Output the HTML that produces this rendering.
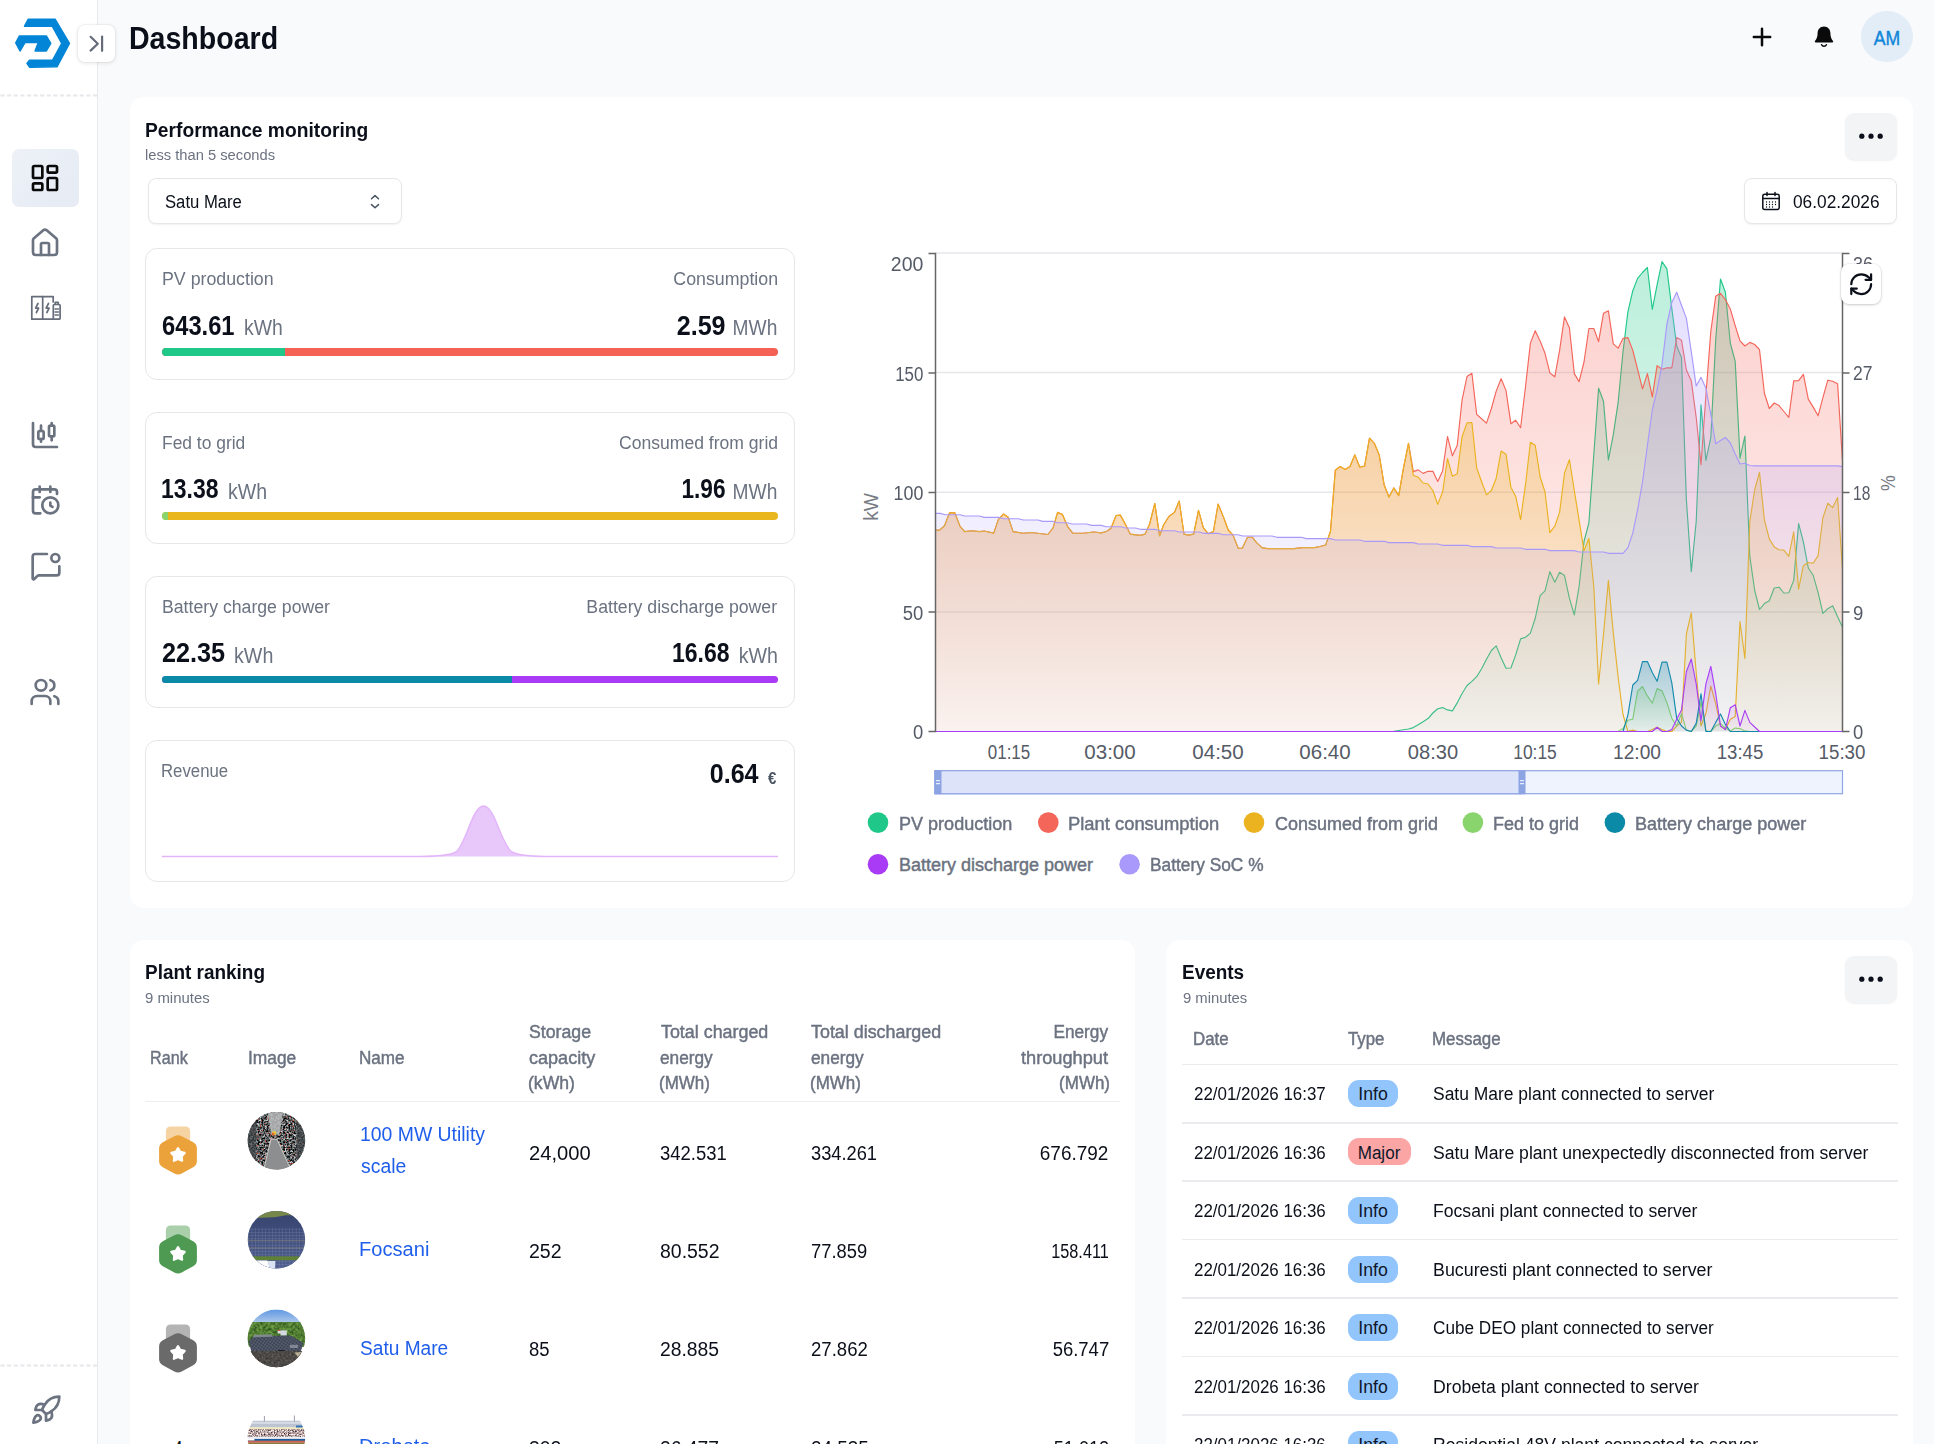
<!DOCTYPE html>
<html><head><meta charset="utf-8"><title>Dashboard</title><style>
*{box-sizing:border-box}
html,body{margin:0;padding:0}
body{width:1934px;height:1444px;overflow:hidden;background:#f9fafb;font-family:"Liberation Sans",sans-serif;position:relative}
.t{position:absolute;white-space:nowrap;line-height:1;display:block}
.abs{position:absolute}
.card{position:absolute;background:#fff;border-radius:14px}
.kpi{position:absolute;background:#fff;border:1.5px solid #e5e7eb;border-radius:12px}
.bar{position:absolute;height:8px}
svg{position:absolute;overflow:visible}
</style></head><body>
<div class="abs" style="left:0;top:0;width:98px;height:1444px;background:#fff;border-right:1.5px solid #e8eaee"></div>
<svg style="left:0;top:0" width="98" height="1444"><path d="M0.5 95.4H97M0.5 1365.5H97" stroke="#e5e7eb" stroke-width="2" stroke-dasharray="4.2 2.4" fill="none"/></svg>
<svg style="left:0;top:0" width="98" height="95" viewBox="0 0 98 95"><g fill="#0285d6" stroke="#0285d6" stroke-width="1.6" stroke-linejoin="round"><path d="M24.6 26.2 L28.2 19.4 L55 19.2 L69.4 43.3 L56.9 66.8 L29.6 67.1 L27 63.4 L29.6 60.2 L52.7 60.2 L61.8 43.3 L52.3 26.2 Z"/><path d="M19.5 36 L15.8 42.9 L20.1 50.8 L24.9 42.5 L38.4 42.5 L35.2 50.9 L46.3 50.9 L50.7 43.3 L46.3 36 Z"/></g></svg>
<div class="abs" style="left:78px;top:24.6px;width:37px;height:37.4px;background:#fff;border-radius:7px;box-shadow:0 1px 4px rgba(16,24,40,.12),0 0 0 1px rgba(16,24,40,.03)"></div>
<svg style="left:78px;top:24.6px" width="37" height="37.4" viewBox="78 24.6 37 37.4" fill="none" stroke="#666c7a" stroke-width="2.2" stroke-linecap="round" stroke-linejoin="round"><path d="M90.6 36.4 L97.8 43.3 L90.6 50.2"/><path d="M102.1 36.2V50.4"/></svg>
<div class="abs" style="left:12px;top:148.5px;width:67px;height:58px;border-radius:7px;background:linear-gradient(135deg,#edf1f7,#e6ebf4)"></div>
<svg style="left:29.20px;top:161.70px" width="32" height="32" viewBox="0 0 24 24" fill="none" stroke="#0a0a0a" stroke-width="2" stroke-linecap="round" stroke-linejoin="round"><rect width="7" height="9" x="3" y="3" rx="1"/><rect width="7" height="5" x="14" y="3" rx="1"/><rect width="7" height="9" x="14" y="12" rx="1"/><rect width="7" height="5" x="3" y="16" rx="1"/></svg>
<svg style="left:29.20px;top:227.20px" width="32" height="32" viewBox="0 0 24 24" fill="none" stroke="#6b7280" stroke-width="2" stroke-linecap="round" stroke-linejoin="round"><path d="M15 21v-8a1 1 0 0 0-1-1h-4a1 1 0 0 0-1 1v8"/><path d="M3 10a2 2 0 0 1 .709-1.528l7-5.999a2 2 0 0 1 2.582 0l7 5.999A2 2 0 0 1 21 10v9a2 2 0 0 1-2 2H5a2 2 0 0 1-2-2z"/></svg>
<svg style="left:29px;top:292px" width="34" height="32" viewBox="29 292 34 32" fill="none" stroke="#666c7a" stroke-width="1.7" stroke-linejoin="round" stroke-linecap="round"><path d="M53.2 302V296.6H31.8V319.2H53"/><path d="M42.7 296.6V319.2"/><path d="M38 303.5l-2.4 4.6h3l-2.2 4.4"/><path d="M48.5 303.5l-2.4 4.6h3l-2.2 4.4"/><rect x="53.3" y="304.5" width="6.8" height="14.7" rx="1"/><path d="M55.2 304.3v-2h3v2"/><path d="M55 309h3.4M55 312h3.4M55 315h3.4" stroke-width="1.4"/></svg>
<svg style="left:29.20px;top:419.20px" width="32" height="32" viewBox="0 0 24 24" fill="none" stroke="#6b7280" stroke-width="2" stroke-linecap="round" stroke-linejoin="round"><path d="M9 5v4"/><rect width="4" height="6" x="7" y="9" rx="1"/><path d="M9 15v2"/><path d="M17 3v2"/><rect width="4" height="8" x="15" y="5" rx="1"/><path d="M17 13v3"/><path d="M3 3v16a2 2 0 0 0 2 2h16"/></svg>
<svg style="left:29.20px;top:484.30px" width="32" height="32" viewBox="0 0 24 24" fill="none" stroke="#6b7280" stroke-width="2" stroke-linecap="round" stroke-linejoin="round"><path d="M16 14v2.2l1.6 1"/><path d="M16 2v4"/><path d="M21 7.5V6a2 2 0 0 0-2-2H5a2 2 0 0 0-2 2v14a2 2 0 0 0 2 2h3.5"/><path d="M3 10h5"/><path d="M8 2v4"/><circle cx="16" cy="16" r="6"/></svg>
<svg style="left:29.80px;top:549.70px" width="32" height="32" viewBox="0 0 24 24" fill="none" stroke="#6b7280" stroke-width="2" stroke-linecap="round" stroke-linejoin="round"><path d="M12.7 3H4a2 2 0 0 0-2 2v16.286a.71.71 0 0 0 1.212.502l2.202-2.202A2 2 0 0 1 6.828 19H20a2 2 0 0 0 2-2v-4.7"/><circle cx="19" cy="6" r="3"/></svg>
<svg style="left:29.40px;top:676.40px" width="32" height="32" viewBox="0 0 24 24" fill="none" stroke="#6b7280" stroke-width="2" stroke-linecap="round" stroke-linejoin="round"><path d="M16 21v-2a4 4 0 0 0-4-4H6a4 4 0 0 0-4 4v2"/><circle cx="9" cy="7" r="4"/><path d="M22 21v-2a4 4 0 0 0-3-3.87"/><path d="M16 3.13a4 4 0 0 1 0 7.75"/></svg>
<svg style="left:29.90px;top:1393.90px" width="32" height="32" viewBox="0 0 24 24" fill="none" stroke="#6b7280" stroke-width="2" stroke-linecap="round" stroke-linejoin="round"><path d="M4.5 16.5c-1.5 1.26-2 5-2 5s3.74-.5 5-2c.71-.84.7-2.13-.09-2.91a2.18 2.18 0 0 0-2.91-.09z"/><path d="m12 15-3-3a22 22 0 0 1 2-3.95A12.88 12.88 0 0 1 22 2c0 2.72-.78 7.5-6 11a22.35 22.35 0 0 1-4 2z"/><path d="M9 12H4s.55-3.03 2-4c1.62-1.08 5 0 5 0"/><path d="M12 15v5s3.03-.55 4-2c1.08-1.62 0-5 0-5"/></svg><svg style="left:1751px;top:26px" width="22" height="22" fill="none" stroke="#0a0a0a" stroke-width="2.5" stroke-linecap="round"><path d="M2.8 11H19.2M11 2.8V19.2"/></svg>
<svg style="left:1812.3px;top:25px" width="24" height="24" viewBox="0 0 24 24"><path fill="#0a0a0a" d="M12 1.6c-3.7 0-6.4 2.9-6.4 6.5 0 3.2-.7 5.6-2.6 7.9-.5.6-.1 1.5.7 1.5h16.6c.8 0 1.2-.9.7-1.5-1.9-2.300-2.600-4.700-2.600-7.900 0-3.600-2.700-6.500-6.400-6.500z"/><path d="M9.600 19.700c.4 1 1.300 1.600 2.400 1.600s2-.6 2.400-1.600" fill="none" stroke="#0a0a0a" stroke-width="1.5" stroke-linecap="round"/></svg>
<div class="abs" style="left:1861px;top:10.800px;width:51.600px;height:51.600px;border-radius:50%;background:#e3edf8"></div>
<div class="card" style="left:129.5px;top:97.3px;width:1783px;height:811px"></div>
<div class="abs" style="left:1845px;top:113.3px;width:52px;height:47px;border-radius:9px;background:#f3f4f6;box-shadow:0 1px 2px rgba(16,24,40,.06)"></div><svg style="left:1845px;top:113.3px" width="52" height="47"><circle cx="16.8" cy="23.2" r="2.6" fill="#0b0f19"/><circle cx="26" cy="23.2" r="2.6" fill="#0b0f19"/><circle cx="35.2" cy="23.2" r="2.6" fill="#0b0f19"/></svg>
<div class="abs" style="left:147.6px;top:178.4px;width:254.2px;height:45.6px;border:1.5px solid #e5e7eb;border-radius:8px;background:#fff;box-shadow:0 1px 2px rgba(16,24,40,.06)"></div>
<svg style="left:366px;top:192px" width="18" height="20" fill="none" stroke="#4b5563" stroke-width="1.5" stroke-linecap="round" stroke-linejoin="round"><path d="M5.500 6.800 L9 3.600 L12.500 6.800M5.500 12.600 L9 15.800 L12.500 12.600"/></svg>
<div class="abs" style="left:1743.800px;top:178.400px;width:153px;height:45.600px;border:1.5px solid #e5e7eb;border-radius:8px;background:#fff;box-shadow:0 1px 2px rgba(16,24,40,.06)"></div>
<svg style="left:1761px;top:191px" width="20" height="20" viewBox="0 0 20 20" fill="none" stroke="#0b0f19" stroke-width="1.500" stroke-linecap="round"><rect x="1.800" y="3.200" width="16.400" height="15.200" rx="2"/><path d="M1.800 7.600H18.200M6 1.400V4.400M14 1.400V4.400"/><path d="M5.500 11h.01M8.500 11h.01M11.500 11h.01M14.500 11h.01M5.500 13.500h.01M8.500 13.500h.01M11.500 13.500h.01M14.500 13.500h.01M5.500 16h.01M8.500 16h.01M11.500 16h.01" stroke-width="1.300"/></svg><div class="kpi" style="left:145px;top:248.3px;width:649.5px;height:132px"></div>
<div class="kpi" style="left:145px;top:412.2px;width:649.5px;height:131.6px"></div>
<div class="kpi" style="left:145px;top:576px;width:649.5px;height:131.6px"></div>
<div class="kpi" style="left:145px;top:739.6px;width:649.5px;height:142.6px"></div>
<div class="abs" style="left:162px;top:348.2px;width:616px;height:7.6px;border-radius:4px;overflow:hidden;background:#f66155"><div class="abs" style="left:0px;top:0;width:123px;height:8px;background:#1fc888"></div></div>
<div class="abs" style="left:162px;top:512.2px;width:616px;height:7.6px;border-radius:4px;overflow:hidden;background:#eab61e"><div class="abs" style="left:0px;top:0;width:6px;height:8px;background:#8ad46d"></div></div>
<div class="abs" style="left:162px;top:675.9px;width:616px;height:7.6px;border-radius:4px;overflow:hidden;background:#a93af5"><div class="abs" style="left:0px;top:0;width:350px;height:8px;background:#0b8aa8"></div></div>
<svg style="left:0;top:0" width="1934" height="1444"><path d="M161.800 856.400 H420 C440 856.400 450 855.500 456 852 C466 845 472 806 483.600 806 C495 806 501 845 512 852 C520 855.800 530 856.400 545 856.400 H778 " fill="#e8c7fb" stroke="#e3b6fa" stroke-width="1.500"/></svg><svg width="1934" height="1444" viewBox="0 0 1934 1444" style="left:0;top:0">
<defs>
<linearGradient id="g_pv" gradientUnits="userSpaceOnUse" x1="0" y1="261.6" x2="0" y2="731.5"><stop offset="0" stop-color="#1fc888" stop-opacity="0.30"/><stop offset="1" stop-color="#1fc888" stop-opacity="0.04"/></linearGradient>
<linearGradient id="g_red" gradientUnits="userSpaceOnUse" x1="0" y1="293.3" x2="0" y2="731.5"><stop offset="0" stop-color="#f4655a" stop-opacity="0.30"/><stop offset="1" stop-color="#f4655a" stop-opacity="0.04"/></linearGradient>
<linearGradient id="g_or" gradientUnits="userSpaceOnUse" x1="0" y1="422.5" x2="0" y2="731.5"><stop offset="0" stop-color="#eab31f" stop-opacity="0.30"/><stop offset="1" stop-color="#eab31f" stop-opacity="0.04"/></linearGradient>
<linearGradient id="g_lg" gradientUnits="userSpaceOnUse" x1="0" y1="686.5" x2="0" y2="731.5"><stop offset="0" stop-color="#8ad46d" stop-opacity="0.30"/><stop offset="1" stop-color="#8ad46d" stop-opacity="0.04"/></linearGradient>
<linearGradient id="g_tl" gradientUnits="userSpaceOnUse" x1="0" y1="661.6" x2="0" y2="731.5"><stop offset="0" stop-color="#0b8aa8" stop-opacity="0.30"/><stop offset="1" stop-color="#0b8aa8" stop-opacity="0.04"/></linearGradient>
<linearGradient id="g_pu" gradientUnits="userSpaceOnUse" x1="0" y1="659.0" x2="0" y2="731.5"><stop offset="0" stop-color="#a93af5" stop-opacity="0.30"/><stop offset="1" stop-color="#a93af5" stop-opacity="0.04"/></linearGradient>
<linearGradient id="g_soc" gradientUnits="userSpaceOnUse" x1="0" y1="292.2" x2="0" y2="731.5"><stop offset="0" stop-color="#a999fa" stop-opacity="0.30"/><stop offset="1" stop-color="#a999fa" stop-opacity="0.04"/></linearGradient>
<clipPath id="plot"><rect x="935.5" y="251.0" width="907.5" height="481.7"/></clipPath>
</defs>
<line x1="935.5" y1="253.0" x2="1842.5" y2="253.0" stroke="#e5e7eb" stroke-width="1.5"/>
<line x1="935.5" y1="372.6" x2="1842.5" y2="372.6" stroke="#e5e7eb" stroke-width="1.5"/>
<line x1="935.5" y1="492.2" x2="1842.5" y2="492.2" stroke="#e5e7eb" stroke-width="1.5"/>
<line x1="935.5" y1="611.9" x2="1842.5" y2="611.9" stroke="#e5e7eb" stroke-width="1.5"/>
<g clip-path="url(#plot)">
<polygon points="935.5,731.5 1389.0,731.5 1393.8,731.3 1398.7,730.5 1403.6,729.8 1408.5,729.0 1413.3,727.6 1418.2,724.7 1423.1,721.8 1428.0,718.6 1432.9,713.0 1437.7,708.7 1442.6,707.6 1447.5,709.9 1452.4,710.9 1457.2,702.9 1462.1,693.5 1467.0,685.5 1471.9,681.4 1476.7,676.7 1481.6,668.7 1486.5,659.3 1491.4,650.5 1496.2,645.9 1501.1,657.8 1506.0,668.3 1510.9,668.0 1515.7,654.9 1520.6,638.9 1525.5,637.2 1530.4,633.1 1535.2,618.5 1540.1,595.6 1545.0,590.9 1549.9,571.7 1554.8,582.2 1559.6,572.3 1564.5,575.6 1569.4,598.2 1574.3,614.9 1579.1,586.5 1584.0,541.5 1588.9,522.9 1593.8,454.5 1598.6,388.2 1603.5,401.3 1608.4,460.0 1613.3,434.7 1618.1,402.7 1623.0,351.8 1627.9,311.8 1632.8,290.7 1637.6,278.4 1642.5,272.5 1647.4,267.5 1652.3,309.3 1657.1,284.9 1662.0,261.6 1666.9,268.9 1671.8,308.2 1676.7,346.0 1681.5,357.6 1686.4,500.0 1691.3,571.6 1696.2,521.5 1701.0,404.9 1705.9,460.4 1710.8,437.6 1715.7,340.0 1720.5,279.0 1725.4,292.2 1730.3,343.0 1735.2,361.3 1740.0,458.2 1744.9,436.0 1749.8,556.4 1754.7,590.5 1759.5,609.5 1764.4,603.6 1769.3,600.7 1774.2,588.0 1779.0,587.2 1783.9,593.0 1788.8,592.7 1793.7,580.4 1798.6,523.6 1803.4,541.8 1808.3,568.0 1813.2,575.3 1818.1,592.7 1822.9,613.4 1827.8,608.7 1832.7,605.8 1837.6,616.7 1842.4,626.9 1842.4,731.5 935.5,731.5" fill="url(#g_pv)"/>
<polyline points="935.5,731.5 1389.0,731.5 1393.8,731.3 1398.7,730.5 1403.6,729.8 1408.5,729.0 1413.3,727.6 1418.2,724.7 1423.1,721.8 1428.0,718.6 1432.9,713.0 1437.7,708.7 1442.6,707.6 1447.5,709.9 1452.4,710.9 1457.2,702.9 1462.1,693.5 1467.0,685.5 1471.9,681.4 1476.7,676.7 1481.6,668.7 1486.5,659.3 1491.4,650.5 1496.2,645.9 1501.1,657.8 1506.0,668.3 1510.9,668.0 1515.7,654.9 1520.6,638.9 1525.5,637.2 1530.4,633.1 1535.2,618.5 1540.1,595.6 1545.0,590.9 1549.9,571.7 1554.8,582.2 1559.6,572.3 1564.5,575.6 1569.4,598.2 1574.3,614.9 1579.1,586.5 1584.0,541.5 1588.9,522.9 1593.8,454.5 1598.6,388.2 1603.5,401.3 1608.4,460.0 1613.3,434.7 1618.1,402.7 1623.0,351.8 1627.9,311.8 1632.8,290.7 1637.6,278.4 1642.5,272.5 1647.4,267.5 1652.3,309.3 1657.1,284.9 1662.0,261.6 1666.9,268.9 1671.8,308.2 1676.7,346.0 1681.5,357.6 1686.4,500.0 1691.3,571.6 1696.2,521.5 1701.0,404.9 1705.9,460.4 1710.8,437.6 1715.7,340.0 1720.5,279.0 1725.4,292.2 1730.3,343.0 1735.2,361.3 1740.0,458.2 1744.9,436.0 1749.8,556.4 1754.7,590.5 1759.5,609.5 1764.4,603.6 1769.3,600.7 1774.2,588.0 1779.0,587.2 1783.9,593.0 1788.8,592.7 1793.7,580.4 1798.6,523.6 1803.4,541.8 1808.3,568.0 1813.2,575.3 1818.1,592.7 1822.9,613.4 1827.8,608.7 1832.7,605.8 1837.6,616.7 1842.4,626.9" fill="none" stroke="#1fc888" stroke-width="1.15" stroke-linejoin="round"/>
<polygon points="935.5,530.0 939.3,530.4 944.5,525.8 949.6,512.8 954.8,512.8 960.0,526.3 964.7,531.6 971.4,530.8 979.6,531.6 984.2,531.0 993.7,533.1 998.3,519.6 1003.4,514.1 1008.2,517.2 1013.1,531.6 1023.1,533.3 1031.3,532.5 1047.9,534.5 1053.1,527.9 1057.6,512.4 1062.4,514.5 1067.5,526.3 1072.7,533.1 1083.1,533.3 1093.4,532.0 1101.7,532.9 1106.8,531.2 1111.0,528.3 1116.1,515.5 1120.3,515.1 1125.4,524.2 1130.2,534.1 1139.9,535.4 1145.1,534.1 1149.6,524.2 1154.8,503.5 1159.6,535.8 1163.7,524.8 1168.9,516.5 1174.5,512.4 1179.2,501.0 1184.0,534.1 1188.5,535.1 1193.7,534.1 1198.5,510.3 1203.4,527.9 1208.2,533.7 1213.4,531.6 1218.1,504.1 1223.7,517.6 1228.2,530.0 1233.0,535.1 1238.2,548.2 1242.3,548.2 1247.5,537.2 1252.2,537.2 1256.8,542.8 1262.0,547.6 1267.1,548.6 1294.0,548.6 1302.3,547.6 1314.7,547.6 1320.7,546.3 1325.6,545.1 1330.5,531.3 1335.3,470.2 1340.2,466.5 1345.1,469.5 1350.0,466.5 1354.8,454.9 1359.7,467.0 1364.6,466.1 1369.5,438.2 1374.3,443.3 1379.2,454.9 1384.1,484.7 1389.0,497.1 1393.8,487.9 1398.7,495.6 1403.6,467.3 1408.5,443.3 1413.3,471.6 1418.2,469.9 1423.1,473.4 1428.0,471.3 1432.9,471.3 1437.7,481.5 1442.6,470.9 1447.5,436.5 1452.4,455.8 1457.2,445.6 1462.1,399.8 1467.0,376.5 1471.9,373.3 1476.7,414.4 1481.6,418.7 1486.5,423.1 1491.4,408.5 1496.2,391.1 1501.1,378.7 1506.0,390.4 1510.9,423.8 1515.7,420.2 1520.6,427.7 1525.5,386.7 1530.4,343.1 1535.2,330.7 1540.1,340.9 1545.0,353.3 1549.9,372.9 1554.8,376.8 1559.6,350.4 1564.5,316.9 1569.4,327.8 1574.3,373.6 1579.1,381.6 1584.0,362.0 1588.9,328.5 1593.8,328.5 1598.6,341.6 1603.5,313.3 1608.4,310.8 1613.3,343.8 1618.1,348.2 1623.0,338.4 1627.9,337.6 1632.8,350.4 1637.6,369.3 1642.5,388.9 1647.4,373.6 1652.3,396.9 1657.1,365.6 1662.0,369.3 1666.9,367.8 1671.8,367.8 1676.7,337.6 1681.5,340.2 1686.4,370.0 1691.3,380.9 1696.2,417.3 1701.0,464.7 1705.9,395.5 1710.8,331.5 1715.7,296.3 1720.5,293.3 1725.4,299.5 1730.3,308.9 1735.2,325.6 1740.0,340.9 1744.9,346.0 1749.8,342.4 1754.7,344.5 1759.5,349.6 1764.4,393.3 1769.3,408.5 1774.2,403.0 1779.0,405.6 1783.9,411.5 1788.8,417.3 1793.7,380.9 1798.6,380.6 1803.4,374.4 1808.3,399.1 1813.2,407.1 1818.1,415.8 1822.9,397.6 1827.8,380.2 1832.7,381.2 1837.6,383.8 1842.4,459.5 1842.4,731.5 935.5,731.5" fill="url(#g_red)"/>
<polyline points="935.5,530.0 939.3,530.4 944.5,525.8 949.6,512.8 954.8,512.8 960.0,526.3 964.7,531.6 971.4,530.8 979.6,531.6 984.2,531.0 993.7,533.1 998.3,519.6 1003.4,514.1 1008.2,517.2 1013.1,531.6 1023.1,533.3 1031.3,532.5 1047.9,534.5 1053.1,527.9 1057.6,512.4 1062.4,514.5 1067.5,526.3 1072.7,533.1 1083.1,533.3 1093.4,532.0 1101.7,532.9 1106.8,531.2 1111.0,528.3 1116.1,515.5 1120.3,515.1 1125.4,524.2 1130.2,534.1 1139.9,535.4 1145.1,534.1 1149.6,524.2 1154.8,503.5 1159.6,535.8 1163.7,524.8 1168.9,516.5 1174.5,512.4 1179.2,501.0 1184.0,534.1 1188.5,535.1 1193.7,534.1 1198.5,510.3 1203.4,527.9 1208.2,533.7 1213.4,531.6 1218.1,504.1 1223.7,517.6 1228.2,530.0 1233.0,535.1 1238.2,548.2 1242.3,548.2 1247.5,537.2 1252.2,537.2 1256.8,542.8 1262.0,547.6 1267.1,548.6 1294.0,548.6 1302.3,547.6 1314.7,547.6 1320.7,546.3 1325.6,545.1 1330.5,531.3 1335.3,470.2 1340.2,466.5 1345.1,469.5 1350.0,466.5 1354.8,454.9 1359.7,467.0 1364.6,466.1 1369.5,438.2 1374.3,443.3 1379.2,454.9 1384.1,484.7 1389.0,497.1 1393.8,487.9 1398.7,495.6 1403.6,467.3 1408.5,443.3 1413.3,471.6 1418.2,469.9 1423.1,473.4 1428.0,471.3 1432.9,471.3 1437.7,481.5 1442.6,470.9 1447.5,436.5 1452.4,455.8 1457.2,445.6 1462.1,399.8 1467.0,376.5 1471.9,373.3 1476.7,414.4 1481.6,418.7 1486.5,423.1 1491.4,408.5 1496.2,391.1 1501.1,378.7 1506.0,390.4 1510.9,423.8 1515.7,420.2 1520.6,427.7 1525.5,386.7 1530.4,343.1 1535.2,330.7 1540.1,340.9 1545.0,353.3 1549.9,372.9 1554.8,376.8 1559.6,350.4 1564.5,316.9 1569.4,327.8 1574.3,373.6 1579.1,381.6 1584.0,362.0 1588.9,328.5 1593.8,328.5 1598.6,341.6 1603.5,313.3 1608.4,310.8 1613.3,343.8 1618.1,348.2 1623.0,338.4 1627.9,337.6 1632.8,350.4 1637.6,369.3 1642.5,388.9 1647.4,373.6 1652.3,396.9 1657.1,365.6 1662.0,369.3 1666.9,367.8 1671.8,367.8 1676.7,337.6 1681.5,340.2 1686.4,370.0 1691.3,380.9 1696.2,417.3 1701.0,464.7 1705.9,395.5 1710.8,331.5 1715.7,296.3 1720.5,293.3 1725.4,299.5 1730.3,308.9 1735.2,325.6 1740.0,340.9 1744.9,346.0 1749.8,342.4 1754.7,344.5 1759.5,349.6 1764.4,393.3 1769.3,408.5 1774.2,403.0 1779.0,405.6 1783.9,411.5 1788.8,417.3 1793.7,380.9 1798.6,380.6 1803.4,374.4 1808.3,399.1 1813.2,407.1 1818.1,415.8 1822.9,397.6 1827.8,380.2 1832.7,381.2 1837.6,383.8 1842.4,459.5" fill="none" stroke="#f4655a" stroke-width="1.15" stroke-linejoin="round"/>
<polygon points="935.5,530.0 939.3,530.4 944.5,525.8 949.6,512.8 954.8,512.8 960.0,526.3 964.7,531.6 971.4,530.8 979.6,531.6 984.2,531.0 993.7,533.1 998.3,519.6 1003.4,514.1 1008.2,517.2 1013.1,531.6 1023.1,533.3 1031.3,532.5 1047.9,534.5 1053.1,527.9 1057.6,512.4 1062.4,514.5 1067.5,526.3 1072.7,533.1 1083.1,533.3 1093.4,532.0 1101.7,532.9 1106.8,531.2 1111.0,528.3 1116.1,515.5 1120.3,515.1 1125.4,524.2 1130.2,534.1 1139.9,535.4 1145.1,534.1 1149.6,524.2 1154.8,503.5 1159.6,535.8 1163.7,524.8 1168.9,516.5 1174.5,512.4 1179.2,501.0 1184.0,534.1 1188.5,535.1 1193.7,534.1 1198.5,510.3 1203.4,527.9 1208.2,533.7 1213.4,531.6 1218.1,504.1 1223.7,517.6 1228.2,530.0 1233.0,535.1 1238.2,548.2 1242.3,548.2 1247.5,537.2 1252.2,537.2 1256.8,542.8 1262.0,547.6 1267.1,548.6 1294.0,548.6 1302.3,547.6 1314.7,547.6 1320.7,546.3 1325.6,545.1 1330.5,531.3 1335.3,470.2 1340.2,466.5 1345.1,469.5 1350.0,466.5 1354.8,454.9 1359.7,467.0 1364.6,466.1 1369.5,438.2 1374.3,443.3 1379.2,454.9 1384.1,484.7 1389.0,497.1 1393.8,487.9 1398.7,495.6 1403.6,467.3 1408.5,443.3 1413.3,475.3 1418.2,477.2 1423.1,483.0 1428.0,484.0 1432.9,490.5 1437.7,504.4 1442.6,492.0 1447.5,458.5 1452.4,476.3 1457.2,473.8 1462.1,436.7 1467.0,422.9 1471.9,422.5 1476.7,468.0 1481.6,481.8 1486.5,494.9 1491.4,490.5 1496.2,478.2 1501.1,451.0 1506.0,454.2 1510.9,487.3 1515.7,496.4 1520.6,519.6 1525.5,484.7 1530.4,442.3 1535.2,445.2 1540.1,476.7 1545.0,492.0 1549.9,532.7 1554.8,526.2 1559.6,512.4 1564.5,473.1 1569.4,459.7 1574.3,490.5 1579.1,520.4 1584.0,550.9 1588.9,538.5 1593.8,586.7 1598.6,684.0 1603.5,634.5 1608.4,580.4 1613.3,633.1 1618.1,676.7 1623.0,714.5 1627.9,731.3 1632.8,730.1 1637.6,731.5 1642.5,731.5 1647.4,731.5 1652.3,729.6 1657.1,727.3 1662.0,729.6 1666.9,731.5 1671.8,731.5 1676.7,726.0 1681.5,722.4 1686.4,634.0 1691.3,612.7 1696.2,672.5 1701.0,726.0 1705.9,713.5 1710.8,686.0 1715.7,703.7 1720.5,726.0 1725.4,729.6 1730.3,719.2 1735.2,716.6 1740.0,621.6 1744.9,658.5 1749.8,521.5 1754.7,489.5 1759.5,472.3 1764.4,520.0 1769.3,538.9 1774.2,546.9 1779.0,549.8 1783.9,550.1 1788.8,556.4 1793.7,531.9 1798.6,589.1 1803.4,565.8 1808.3,562.5 1813.2,563.3 1818.1,555.6 1822.9,517.8 1827.8,503.3 1832.7,507.6 1837.6,497.5 1842.4,568.0 1842.4,731.5 935.5,731.5" fill="url(#g_or)"/>
<polyline points="935.5,530.0 939.3,530.4 944.5,525.8 949.6,512.8 954.8,512.8 960.0,526.3 964.7,531.6 971.4,530.8 979.6,531.6 984.2,531.0 993.7,533.1 998.3,519.6 1003.4,514.1 1008.2,517.2 1013.1,531.6 1023.1,533.3 1031.3,532.5 1047.9,534.5 1053.1,527.9 1057.6,512.4 1062.4,514.5 1067.5,526.3 1072.7,533.1 1083.1,533.3 1093.4,532.0 1101.7,532.9 1106.8,531.2 1111.0,528.3 1116.1,515.5 1120.3,515.1 1125.4,524.2 1130.2,534.1 1139.9,535.4 1145.1,534.1 1149.6,524.2 1154.8,503.5 1159.6,535.8 1163.7,524.8 1168.9,516.5 1174.5,512.4 1179.2,501.0 1184.0,534.1 1188.5,535.1 1193.7,534.1 1198.5,510.3 1203.4,527.9 1208.2,533.7 1213.4,531.6 1218.1,504.1 1223.7,517.6 1228.2,530.0 1233.0,535.1 1238.2,548.2 1242.3,548.2 1247.5,537.2 1252.2,537.2 1256.8,542.8 1262.0,547.6 1267.1,548.6 1294.0,548.6 1302.3,547.6 1314.7,547.6 1320.7,546.3 1325.6,545.1 1330.5,531.3 1335.3,470.2 1340.2,466.5 1345.1,469.5 1350.0,466.5 1354.8,454.9 1359.7,467.0 1364.6,466.1 1369.5,438.2 1374.3,443.3 1379.2,454.9 1384.1,484.7 1389.0,497.1 1393.8,487.9 1398.7,495.6 1403.6,467.3 1408.5,443.3 1413.3,475.3 1418.2,477.2 1423.1,483.0 1428.0,484.0 1432.9,490.5 1437.7,504.4 1442.6,492.0 1447.5,458.5 1452.4,476.3 1457.2,473.8 1462.1,436.7 1467.0,422.9 1471.9,422.5 1476.7,468.0 1481.6,481.8 1486.5,494.9 1491.4,490.5 1496.2,478.2 1501.1,451.0 1506.0,454.2 1510.9,487.3 1515.7,496.4 1520.6,519.6 1525.5,484.7 1530.4,442.3 1535.2,445.2 1540.1,476.7 1545.0,492.0 1549.9,532.7 1554.8,526.2 1559.6,512.4 1564.5,473.1 1569.4,459.7 1574.3,490.5 1579.1,520.4 1584.0,550.9 1588.9,538.5 1593.8,586.7 1598.6,684.0 1603.5,634.5 1608.4,580.4 1613.3,633.1 1618.1,676.7 1623.0,714.5 1627.9,731.3 1632.8,730.1 1637.6,731.5 1642.5,731.5 1647.4,731.5 1652.3,729.6 1657.1,727.3 1662.0,729.6 1666.9,731.5 1671.8,731.5 1676.7,726.0 1681.5,722.4 1686.4,634.0 1691.3,612.7 1696.2,672.5 1701.0,726.0 1705.9,713.5 1710.8,686.0 1715.7,703.7 1720.5,726.0 1725.4,729.6 1730.3,719.2 1735.2,716.6 1740.0,621.6 1744.9,658.5 1749.8,521.5 1754.7,489.5 1759.5,472.3 1764.4,520.0 1769.3,538.9 1774.2,546.9 1779.0,549.8 1783.9,550.1 1788.8,556.4 1793.7,531.9 1798.6,589.1 1803.4,565.8 1808.3,562.5 1813.2,563.3 1818.1,555.6 1822.9,517.8 1827.8,503.3 1832.7,507.6 1837.6,497.5 1842.4,568.0" fill="none" stroke="#eab31f" stroke-width="1.15" stroke-linejoin="round"/>
<polygon points="935.5,731.5 1613.3,731.5 1618.1,731.5 1623.0,728.6 1627.9,720.3 1632.8,719.2 1637.6,691.2 1642.5,686.5 1647.4,695.9 1652.3,703.1 1657.1,688.6 1662.0,690.7 1666.9,702.6 1671.8,718.2 1676.7,726.0 1681.5,713.5 1686.4,730.1 1691.3,731.5 1696.2,726.0 1701.0,702.1 1705.9,730.7 1710.8,731.5 1715.7,726.0 1720.5,723.4 1725.4,728.1 1730.3,730.9 1735.2,728.1 1740.0,728.6 1744.9,730.9 1749.8,731.5 1842.5,731.5 1842.5,731.5 935.5,731.5" fill="url(#g_lg)"/>
<polyline points="935.5,731.5 1613.3,731.5 1618.1,731.5 1623.0,728.6 1627.9,720.3 1632.8,719.2 1637.6,691.2 1642.5,686.5 1647.4,695.9 1652.3,703.1 1657.1,688.6 1662.0,690.7 1666.9,702.6 1671.8,718.2 1676.7,726.0 1681.5,713.5 1686.4,730.1 1691.3,731.5 1696.2,726.0 1701.0,702.1 1705.9,730.7 1710.8,731.5 1715.7,726.0 1720.5,723.4 1725.4,728.1 1730.3,730.9 1735.2,728.1 1740.0,728.6 1744.9,730.9 1749.8,731.5 1842.5,731.5" fill="none" stroke="#8ad46d" stroke-width="1.15" stroke-linejoin="round"/>
<polygon points="935.5,731.5 1618.1,731.5 1623.0,731.5 1627.9,715.1 1632.8,685.0 1637.6,680.3 1642.5,661.6 1647.4,661.6 1652.3,672.5 1657.1,681.3 1662.0,662.1 1666.9,662.1 1671.8,682.9 1676.7,718.2 1681.5,726.0 1686.4,730.1 1691.3,731.5 1696.2,723.4 1701.0,693.8 1705.9,731.5 1710.8,731.5 1715.7,722.4 1720.5,714.0 1725.4,724.4 1730.3,731.5 1842.5,731.5 1842.5,731.5 935.5,731.5" fill="url(#g_tl)"/>
<polyline points="935.5,731.5 1618.1,731.5 1623.0,731.5 1627.9,715.1 1632.8,685.0 1637.6,680.3 1642.5,661.6 1647.4,661.6 1652.3,672.5 1657.1,681.3 1662.0,662.1 1666.9,662.1 1671.8,682.9 1676.7,718.2 1681.5,726.0 1686.4,730.1 1691.3,731.5 1696.2,723.4 1701.0,693.8 1705.9,731.5 1710.8,731.5 1715.7,722.4 1720.5,714.0 1725.4,724.4 1730.3,731.5 1842.5,731.5" fill="none" stroke="#0b8aa8" stroke-width="1.15" stroke-linejoin="round"/>
<polygon points="935.5,731.5 1647.4,731.5 1652.3,731.5 1657.1,727.3 1662.0,731.5 1666.9,731.5 1671.8,729.6 1676.7,719.2 1681.5,709.9 1686.4,671.5 1691.3,659.0 1696.2,683.9 1701.0,720.8 1705.9,683.9 1710.8,666.3 1715.7,693.3 1720.5,726.0 1725.4,729.6 1730.3,707.8 1735.2,704.7 1740.0,726.0 1744.9,710.4 1749.8,722.4 1754.7,727.0 1759.5,731.5 1842.5,731.5 1842.5,731.5 935.5,731.5" fill="url(#g_pu)"/>
<polyline points="935.5,731.5 1647.4,731.5 1652.3,731.5 1657.1,727.3 1662.0,731.5 1666.9,731.5 1671.8,729.6 1676.7,719.2 1681.5,709.9 1686.4,671.5 1691.3,659.0 1696.2,683.9 1701.0,720.8 1705.9,683.9 1710.8,666.3 1715.7,693.3 1720.5,726.0 1725.4,729.6 1730.3,707.8 1735.2,704.7 1740.0,726.0 1744.9,710.4 1749.8,722.4 1754.7,727.0 1759.5,731.5 1842.5,731.5" fill="none" stroke="#a93af5" stroke-width="1.15" stroke-linejoin="round"/>
<polygon points="935.5,513.4 940.4,513.4 945.3,514.7 950.1,514.7 955.0,514.7 959.9,514.7 964.8,516.0 969.6,516.0 974.5,516.0 979.4,516.0 984.3,517.4 989.1,517.4 994.0,517.4 998.9,517.4 1003.8,518.7 1008.6,518.7 1013.5,518.7 1018.4,518.7 1023.3,520.0 1028.1,520.0 1033.0,520.0 1037.9,520.0 1042.8,521.4 1047.6,521.4 1052.5,521.4 1057.4,522.7 1062.3,522.7 1067.2,522.7 1072.0,524.0 1076.9,524.0 1081.8,524.0 1086.7,524.0 1091.5,525.4 1096.4,525.4 1101.3,525.4 1106.2,526.7 1111.0,526.7 1115.9,526.7 1120.8,526.7 1125.7,528.0 1130.5,528.0 1135.4,528.0 1140.3,529.3 1145.2,529.3 1150.0,529.3 1154.9,529.3 1159.8,530.7 1164.7,530.7 1169.5,530.7 1174.4,530.7 1179.3,532.0 1184.2,532.0 1189.1,532.0 1193.9,532.0 1198.8,532.0 1203.7,533.3 1208.6,533.3 1213.4,533.3 1218.3,533.3 1223.2,534.7 1228.1,534.7 1232.9,534.7 1237.8,534.7 1242.7,536.0 1247.6,536.0 1252.4,536.0 1257.3,536.0 1262.2,536.0 1267.1,536.0 1271.9,536.0 1276.8,537.3 1281.7,537.3 1286.6,537.3 1291.4,537.3 1296.3,537.3 1301.2,537.3 1306.1,538.6 1311.0,538.6 1315.8,538.6 1320.7,538.6 1325.6,538.6 1330.5,538.6 1335.3,540.0 1340.2,540.0 1345.1,540.0 1350.0,540.0 1354.8,540.0 1359.7,540.0 1364.6,541.3 1369.5,541.3 1374.3,541.3 1379.2,541.3 1384.1,541.3 1389.0,542.6 1393.8,542.6 1398.7,542.6 1403.6,542.6 1408.5,542.6 1413.3,542.6 1418.2,544.0 1423.1,544.0 1428.0,544.0 1432.9,544.0 1437.7,544.0 1442.6,545.3 1447.5,545.3 1452.4,545.3 1457.2,545.3 1462.1,545.3 1467.0,545.3 1471.9,546.6 1476.7,546.6 1481.6,546.6 1486.5,546.6 1491.4,546.6 1496.2,548.0 1501.1,548.0 1506.0,548.0 1510.9,548.0 1515.7,548.0 1520.6,548.0 1525.5,549.3 1530.4,549.3 1535.2,549.3 1540.1,549.3 1545.0,549.3 1549.9,550.6 1554.8,550.6 1559.6,550.6 1564.5,550.6 1569.4,550.6 1574.3,550.6 1579.1,552.0 1584.0,552.0 1588.9,552.0 1593.8,552.0 1598.6,552.0 1603.5,552.0 1608.4,553.3 1613.3,553.3 1618.1,553.3 1623.0,553.3 1627.9,547.6 1632.8,533.1 1637.6,509.8 1642.5,482.2 1647.4,445.5 1652.3,410.0 1657.1,389.6 1662.0,364.9 1666.9,324.0 1671.8,302.4 1676.7,292.2 1681.5,305.3 1686.4,318.4 1691.3,351.8 1696.2,386.0 1701.0,377.3 1705.9,388.2 1710.8,414.4 1715.7,443.8 1720.5,440.5 1725.4,437.5 1730.3,442.8 1735.2,454.0 1740.0,464.0 1744.9,463.3 1749.8,465.5 1754.7,465.9 1837.6,465.9 1842.4,466.6 1842.4,731.5 935.5,731.5" fill="url(#g_soc)"/>
<polyline points="935.5,513.4 940.4,513.4 945.3,514.7 950.1,514.7 955.0,514.7 959.9,514.7 964.8,516.0 969.6,516.0 974.5,516.0 979.4,516.0 984.3,517.4 989.1,517.4 994.0,517.4 998.9,517.4 1003.8,518.7 1008.6,518.7 1013.5,518.7 1018.4,518.7 1023.3,520.0 1028.1,520.0 1033.0,520.0 1037.9,520.0 1042.8,521.4 1047.6,521.4 1052.5,521.4 1057.4,522.7 1062.3,522.7 1067.2,522.7 1072.0,524.0 1076.9,524.0 1081.8,524.0 1086.7,524.0 1091.5,525.4 1096.4,525.4 1101.3,525.4 1106.2,526.7 1111.0,526.7 1115.9,526.7 1120.8,526.7 1125.7,528.0 1130.5,528.0 1135.4,528.0 1140.3,529.3 1145.2,529.3 1150.0,529.3 1154.9,529.3 1159.8,530.7 1164.7,530.7 1169.5,530.7 1174.4,530.7 1179.3,532.0 1184.2,532.0 1189.1,532.0 1193.9,532.0 1198.8,532.0 1203.7,533.3 1208.6,533.3 1213.4,533.3 1218.3,533.3 1223.2,534.7 1228.1,534.7 1232.9,534.7 1237.8,534.7 1242.7,536.0 1247.6,536.0 1252.4,536.0 1257.3,536.0 1262.2,536.0 1267.1,536.0 1271.9,536.0 1276.8,537.3 1281.7,537.3 1286.6,537.3 1291.4,537.3 1296.3,537.3 1301.2,537.3 1306.1,538.6 1311.0,538.6 1315.8,538.6 1320.7,538.6 1325.6,538.6 1330.5,538.6 1335.3,540.0 1340.2,540.0 1345.1,540.0 1350.0,540.0 1354.8,540.0 1359.7,540.0 1364.6,541.3 1369.5,541.3 1374.3,541.3 1379.2,541.3 1384.1,541.3 1389.0,542.6 1393.8,542.6 1398.7,542.6 1403.6,542.6 1408.5,542.6 1413.3,542.6 1418.2,544.0 1423.1,544.0 1428.0,544.0 1432.9,544.0 1437.7,544.0 1442.6,545.3 1447.5,545.3 1452.4,545.3 1457.2,545.3 1462.1,545.3 1467.0,545.3 1471.9,546.6 1476.7,546.6 1481.6,546.6 1486.5,546.6 1491.4,546.6 1496.2,548.0 1501.1,548.0 1506.0,548.0 1510.9,548.0 1515.7,548.0 1520.6,548.0 1525.5,549.3 1530.4,549.3 1535.2,549.3 1540.1,549.3 1545.0,549.3 1549.9,550.6 1554.8,550.6 1559.6,550.6 1564.5,550.6 1569.4,550.6 1574.3,550.6 1579.1,552.0 1584.0,552.0 1588.9,552.0 1593.8,552.0 1598.6,552.0 1603.5,552.0 1608.4,553.3 1613.3,553.3 1618.1,553.3 1623.0,553.3 1627.9,547.6 1632.8,533.1 1637.6,509.8 1642.5,482.2 1647.4,445.5 1652.3,410.0 1657.1,389.6 1662.0,364.9 1666.9,324.0 1671.8,302.4 1676.7,292.2 1681.5,305.3 1686.4,318.4 1691.3,351.8 1696.2,386.0 1701.0,377.3 1705.9,388.2 1710.8,414.4 1715.7,443.8 1720.5,440.5 1725.4,437.5 1730.3,442.8 1735.2,454.0 1740.0,464.0 1744.9,463.3 1749.8,465.5 1754.7,465.9 1837.6,465.9 1842.4,466.6" fill="none" stroke="#a999fa" stroke-width="1.15" stroke-linejoin="round"/>
</g>
<path d="M928.5 253.5H935.5V731.5H928.5M928.5 372.9H935.5M928.5 492.4H935.5M928.5 611.9H935.5" fill="none" stroke="#666" stroke-width="1.5"/>
<path d="M1849.5 253.5H1842.5V731.5H1849.5M1842.5 372.9H1849.5M1842.5 492.4H1849.5M1842.5 611.9H1849.5" fill="none" stroke="#666" stroke-width="1.5"/>
<rect x="935" y="770.7" width="907.5" height="23" fill="#eef3fd" stroke="#90a6e6" stroke-width="1.2"/>
<rect x="935" y="770.7" width="587" height="23" fill="#dde3f8" stroke="#90a6e6" stroke-width="1.2"/>
<rect x="934.5" y="770.2" width="7" height="24" fill="#8da4e3"/>
<path d="M936.0 780.7h4M936.0 783.7h4" stroke="#fff" stroke-width="1"/>
<rect x="1518.5" y="770.2" width="7" height="24" fill="#8da4e3"/>
<path d="M1520.0 780.7h4M1520.0 783.7h4" stroke="#fff" stroke-width="1"/>
<circle cx="878.0" cy="822.6" r="10.3" fill="#1fc888"/>
<circle cx="1048.3" cy="822.6" r="10.3" fill="#f4655a"/>
<circle cx="1254.0" cy="822.6" r="10.3" fill="#eab31f"/>
<circle cx="1472.9" cy="822.6" r="10.3" fill="#8ad46d"/>
<circle cx="1614.9" cy="822.6" r="10.3" fill="#0b8aa8"/>
<circle cx="878.0" cy="864.3" r="10.3" fill="#a93af5"/>
<circle cx="1129.6" cy="864.3" r="10.3" fill="#a999fa"/>
</svg>
<div class="abs" style="z-index:5;left:1840.5px;top:264.2px;width:40.5px;height:40.2px;background:#fff;border-radius:8px;box-shadow:0 1px 3px rgba(0,0,0,.18),0 0 0 1px rgba(0,0,0,.04)"></div>
<svg style="z-index:6;left:1847.7px;top:271.4px" width="26.4" height="26.4" viewBox="0 0 24 24" fill="none" stroke="#0b0f19" stroke-width="2" stroke-linecap="round" stroke-linejoin="round"><path d="M3 12a9 9 0 0 1 9-9 9.75 9.75 0 0 1 6.74 2.74L21 8"/><path d="M21 3v5h-5"/><path d="M21 12a9 9 0 0 1-9 9 9.75 9.75 0 0 1-6.74-2.74L3 16"/><path d="M8 16H3v5"/></svg><div class="card" style="left:129.500px;top:940px;width:1005px;height:560px"></div>
<div class="card" style="left:1166.200px;top:939.600px;width:746.600px;height:560px"></div>
<div class="abs" style="left:1845px;top:956px;width:52px;height:47px;border-radius:9px;background:#f3f4f6;box-shadow:0 1px 2px rgba(16,24,40,.06)"></div><svg style="left:1845px;top:956px" width="52" height="47"><circle cx="16.8" cy="23.2" r="2.6" fill="#0b0f19"/><circle cx="26" cy="23.2" r="2.6" fill="#0b0f19"/><circle cx="35.2" cy="23.2" r="2.6" fill="#0b0f19"/></svg>
<div class="abs" style="left:145px;top:1100.500px;width:975px;height:1.200px;background:#eceef1"></div>
<div class="abs" style="left:1182px;top:1063.6px;width:716px;height:1.500px;background:#e9ebee"></div>
<div class="abs" style="left:1182px;top:1122px;width:716px;height:1.500px;background:#e9ebee"></div>
<div class="abs" style="left:1182px;top:1180.4px;width:716px;height:1.500px;background:#e9ebee"></div>
<div class="abs" style="left:1182px;top:1238.8px;width:716px;height:1.500px;background:#e9ebee"></div>
<div class="abs" style="left:1182px;top:1297.2px;width:716px;height:1.500px;background:#e9ebee"></div>
<div class="abs" style="left:1182px;top:1355.7px;width:716px;height:1.500px;background:#e9ebee"></div>
<div class="abs" style="left:1182px;top:1414.2px;width:716px;height:1.500px;background:#e9ebee"></div>
<div class="abs" style="left:1347.800px;top:1079.8px;width:50.200px;height:27px;border-radius:11px;background:#93c5fd"></div>
<div class="abs" style="left:1347.800px;top:1138.4px;width:63.700px;height:27px;border-radius:11px;background:#fca5a5"></div>
<div class="abs" style="left:1347.800px;top:1196.9px;width:50.200px;height:27px;border-radius:11px;background:#93c5fd"></div>
<div class="abs" style="left:1347.800px;top:1255.5px;width:50.200px;height:27px;border-radius:11px;background:#93c5fd"></div>
<div class="abs" style="left:1347.800px;top:1314px;width:50.200px;height:27px;border-radius:11px;background:#93c5fd"></div>
<div class="abs" style="left:1347.800px;top:1372.5px;width:50.200px;height:27px;border-radius:11px;background:#93c5fd"></div>
<div class="abs" style="left:1347.800px;top:1431px;width:50.200px;height:27px;border-radius:11px;background:#93c5fd"></div>
<svg style="left:156.4px;top:1124.9px" width="44" height="52" viewBox="0 0 44 52"><path d="M9.90 6.60 Q9.90 1.60 14.90 1.60 L29.10 1.60 Q34.10 1.60 34.10 6.60 L34.10 21.00 Q34.10 26.00 29.10 26.00 L14.90 26.00 Q9.90 26.00 9.90 21.00 Z" fill="#f6d3a3"/><path d="M18.30 11.18 Q22.00 9.20 25.70 11.18 L37.20 17.32 Q40.90 19.30 40.90 23.50 L40.90 36.10 Q40.90 40.30 37.20 42.28 L25.70 48.42 Q22.00 50.40 18.30 48.42 L6.80 42.28 Q3.10 40.30 3.10 36.10 L3.10 23.50 Q3.10 19.30 6.80 17.32 Z" fill="#eba23a"/><polygon points="22.00,23.10 24.29,26.94 28.66,27.94 25.71,31.31 26.11,35.76 22.00,34.00 17.89,35.76 18.29,31.31 15.34,27.94 19.71,26.94" fill="#fff" stroke="#fff" stroke-width="2.2" stroke-linejoin="round"/></svg>
<svg style="left:156.4px;top:1223.6px" width="44" height="52" viewBox="0 0 44 52"><path d="M9.90 6.60 Q9.90 1.60 14.90 1.60 L29.10 1.60 Q34.10 1.60 34.10 6.60 L34.10 21.00 Q34.10 26.00 29.10 26.00 L14.90 26.00 Q9.90 26.00 9.90 21.00 Z" fill="#a9cfab"/><path d="M18.30 11.18 Q22.00 9.20 25.70 11.18 L37.20 17.32 Q40.90 19.30 40.90 23.50 L40.90 36.10 Q40.90 40.30 37.20 42.28 L25.70 48.42 Q22.00 50.40 18.30 48.42 L6.80 42.28 Q3.10 40.30 3.10 36.10 L3.10 23.50 Q3.10 19.30 6.80 17.32 Z" fill="#4e9a52"/><polygon points="22.00,23.10 24.29,26.94 28.66,27.94 25.71,31.31 26.11,35.76 22.00,34.00 17.89,35.76 18.29,31.31 15.34,27.94 19.71,26.94" fill="#fff" stroke="#fff" stroke-width="2.2" stroke-linejoin="round"/></svg>
<svg style="left:156.4px;top:1322.5px" width="44" height="52" viewBox="0 0 44 52"><path d="M9.90 6.60 Q9.90 1.60 14.90 1.60 L29.10 1.60 Q34.10 1.60 34.10 6.60 L34.10 21.00 Q34.10 26.00 29.10 26.00 L14.90 26.00 Q9.90 26.00 9.90 21.00 Z" fill="#b4b4b4"/><path d="M18.30 11.18 Q22.00 9.20 25.70 11.18 L37.20 17.32 Q40.90 19.30 40.90 23.50 L40.90 36.10 Q40.90 40.30 37.20 42.28 L25.70 48.42 Q22.00 50.40 18.30 48.42 L6.80 42.28 Q3.10 40.30 3.10 36.10 L3.10 23.50 Q3.10 19.30 6.80 17.32 Z" fill="#6a6a6a"/><polygon points="22.00,23.10 24.29,26.94 28.66,27.94 25.71,31.31 26.11,35.76 22.00,34.00 17.89,35.76 18.29,31.31 15.34,27.94 19.71,26.94" fill="#fff" stroke="#fff" stroke-width="2.2" stroke-linejoin="round"/></svg>
<svg style="left:0;top:0" width="1934" height="1444"><defs><clipPath id="ic0"><circle cx="276.4" cy="1140.7" r="28.8"/></clipPath><clipPath id="ic1"><circle cx="276.4" cy="1239.7" r="28.8"/></clipPath><clipPath id="ic2"><circle cx="276.4" cy="1338.4" r="28.8"/></clipPath><clipPath id="ic3"><circle cx="276.4" cy="1437.4" r="28.8"/></clipPath><linearGradient id="sky" x1="0" y1="0" x2="0" y2="1"><stop offset="0" stop-color="#5f97e2"/><stop offset="1" stop-color="#c3d5ee"/></linearGradient><linearGradient id="pvg" x1="0" y1="0" x2="0" y2="1"><stop offset="0" stop-color="#36436e"/><stop offset="1" stop-color="#4d5c8d"/></linearGradient><filter id="nzA" color-interpolation-filters="sRGB" x="0" y="0" width="100%" height="100%"><feTurbulence type="fractalNoise" baseFrequency="0.55" numOctaves="2" seed="4"/><feColorMatrix type="matrix" values="1.9 0 0 0 -0.62  1.9 0 0 0 -0.6  1.9 0 0 0 -0.59  0 0 0 0 1"/></filter><filter id="nzR" color-interpolation-filters="sRGB" x="0" y="0" width="100%" height="100%"><feTurbulence type="fractalNoise" baseFrequency="0.6" numOctaves="1" seed="11"/><feColorMatrix type="matrix" values="0 0 0 0 0.8  0 0 0 0 0.3  0 0 0 0 0.2  0 9 0 0 -5.5"/></filter><filter id="nzG" color-interpolation-filters="sRGB" x="0" y="0" width="100%" height="100%"><feTurbulence type="fractalNoise" baseFrequency="0.35" numOctaves="2" seed="7"/><feColorMatrix type="matrix" values="0.5 0 0 0 0.07  0.55 0 0 0 0.22  0.3 0 0 0 0.05  0 0 0 0 1"/></filter><filter id="nzD" color-interpolation-filters="sRGB" x="0" y="0" width="100%" height="100%"><feTurbulence type="fractalNoise" baseFrequency="0.5" numOctaves="2" seed="2"/><feColorMatrix type="matrix" values="0.3 0 0 0 0.15  0.3 0 0 0 0.14  0.3 0 0 0 0.13  0 0 0 0 1"/></filter><filter id="nzB" color-interpolation-filters="sRGB" x="0" y="0" width="100%" height="100%"><feTurbulence type="fractalNoise" baseFrequency="0.7" numOctaves="2" seed="9"/><feColorMatrix type="matrix" values="1.6 0 0 0 -0.08  1.6 0 0 0 -0.16  1.5 0 0 0 -0.11  0 0 0 0 1"/></filter><pattern id="pvl" width="3.4" height="3.2" patternUnits="userSpaceOnUse"><path d="M0 0.4H3.4M0.4 0V3.2" stroke="#aeb9d8" stroke-width="0.5" opacity=".32"/></pattern><pattern id="pv3" width="2.6" height="2.6" patternUnits="userSpaceOnUse" patternTransform="rotate(35)"><path d="M0 0.4H2.6M0.4 0V2.6" stroke="#8c95a8" stroke-width="0.5" opacity=".5"/></pattern></defs><g clip-path="url(#ic0)"><rect x="247.4" y="1111.7" width="58" height="58" fill="#555" filter="url(#nzA)"/><rect x="247.4" y="1111.7" width="58" height="58" filter="url(#nzR)" opacity=".9"/><rect x="247.4" y="1111.7" width="9" height="58" fill="#3f4648" opacity=".7"/><rect x="296.4" y="1111.7" width="9" height="58" fill="#3f4648" opacity=".7"/><polygon points="267.4,1111.7 283.4,1111.7 279.4,1134.7 271.4,1134.7" fill="#b9bcbc" opacity=".85"/><circle cx="274.1" cy="1133.1" r="2.2" fill="#e8c53a"/><circle cx="273.1" cy="1134.1" r="1.4" fill="#e0642e"/><polygon points="271,1139.1 277,1139.1 291.4,1170.7 263.4,1170.7" fill="#8d8e8f" stroke="#d8d8d2" stroke-width="0.9"/></g><g clip-path="url(#ic1)"><rect x="247.4" y="1210.7" width="58" height="58" fill="url(#pvg)"/><rect x="247.4" y="1227.7" width="58" height="38" fill="url(#pvl)"/><polygon points="247.4,1210.7 305.4,1210.7 305.4,1215.2 286.4,1215.2 274.4,1217.2 247.4,1218.2" fill="#76874a"/><rect x="247.4" y="1239.9" width="58" height="0.9" fill="#9a9474" opacity=".5"/><rect x="247.4" y="1247.5" width="58" height="0.9" fill="#a39c78" opacity=".5"/><rect x="247.4" y="1256.3" width="58" height="4.2" fill="#5f8238"/><rect x="247.4" y="1260.5" width="58" height="9" fill="#4c5b8c"/><rect x="247.4" y="1260.5" width="58" height="9" fill="url(#pvl)"/><polygon points="247.4,1260.5 267.4,1260.5 270.4,1269.7 247.4,1269.7" fill="#ffffff"/><polygon points="267.4,1261.1 275.4,1261.1 274.9,1269.7 270.4,1269.7" fill="#d9e3f3"/></g><g clip-path="url(#ic2)"><rect x="247.4" y="1309.4" width="58" height="17" fill="url(#sky)"/><polygon points="247.4,1322.1 305.4,1324.4 305.4,1346.4 247.4,1340.4" fill="#5a8a36" filter="url(#nzG)"/><rect x="277.6" y="1330.8" width="3.300" height="2.600" fill="#d9dfe4"/><polygon points="277,1331 279.2,1329.4 281.4,1331" fill="#c8553a"/><rect x="280.5" y="1330.4" width="6.300" height="5.200" fill="#d4d9e2"/><polygon points="253.9,1336.2 290.8,1335.6 303.6,1343 300.7,1351.4 252.1,1354.2 248.6,1341.6" fill="#3b4353"/><polygon points="253.9,1336.2 290.8,1335.6 303.6,1343 300.7,1351.4 252.1,1354.2 248.6,1341.6" fill="url(#pv3)"/><polygon points="253.9,1334.8 271.9,1334.2 272.9,1336.8 252.9,1337.4" fill="#8a8f99" opacity=".85"/><rect x="289.9" y="1344.8" width="8" height="3.200" fill="#9aa0ab" opacity=".7"/><rect x="277.9" y="1350.1" width="6.500" height="2.700" fill="#16181c"/><polygon points="247.4,1353.9 295.4,1351.9 305.4,1354.4 305.4,1368.4" fill="#4d4a47" filter="url(#nzD)"/><rect x="247.4" y="1354.2" width="58" height="15" fill="#4d4a47" filter="url(#nzD)"/><polygon points="294.4,1352.4 301.4,1351.9 297.9,1356.9" fill="#b9ad95"/></g><g clip-path="url(#ic3)"><rect x="247.4" y="1408.4" width="58" height="14" fill="#ffffff"/><polygon points="252.5,1420.8 300.5,1420.8 303.2,1427.5 249.5,1427.5" fill="#bcc3d1"/><rect x="251" y="1421.800" width="50" height="2" fill="#e6e9f0" opacity=".7"/><rect x="296" y="1425.500" width="6.500" height="3.400" fill="#2e6fb8"/><rect x="247.4" y="1427.500" width="58" height="1.600" fill="#f2e7b8"/><rect x="247.4" y="1429" width="58" height="8" fill="#b9a5a3" filter="url(#nzB)"/><rect x="247.4" y="1436.900" width="58" height="2.100" fill="#eef0f3"/><rect x="254.4" y="1438.900" width="58" height="1.700" fill="#1f5a9e"/><rect x="247.4" y="1440.600" width="58" height="0.700" fill="#1a1414"/><rect x="247.4" y="1441.200" width="58" height="1.500" fill="#cf474a"/><rect x="247.4" y="1442.600" width="58" height="4" fill="#8a7a34"/></g><path d="M264.400 1416v5.500M294.400 1415.500v6" stroke="#9a9faa" stroke-width="1"/></svg><span class="t" style="top:22.10px;font-size:32px;font-weight:700;color:#0b0f19;left:129.42px;transform-origin:0 0;transform:scaleX(0.8921);">Dashboard</span>
<span class="t" style="top:27.05px;font-size:21px;font-weight:400;color:#0f86d8;left:1887.29px;transform:translateX(-50%) scaleX(0.8376);-webkit-text-stroke:0.45px currentColor;">AM</span>
<span class="t" style="top:119.80px;font-size:20px;font-weight:700;color:#0b0f19;left:144.70px;transform-origin:0 0;transform:scaleX(0.9611);">Performance monitoring</span>
<span class="t" style="top:147.60px;font-size:14px;font-weight:400;color:#6b7280;left:144.98px;transform-origin:0 0;transform:scaleX(1.0512);">less than 5 seconds</span>
<span class="t" style="top:192.70px;font-size:18px;font-weight:400;color:#0b0f19;left:164.88px;transform-origin:0 0;transform:scaleX(0.9260);">Satu Mare</span>
<span class="t" style="top:193.10px;font-size:18px;font-weight:400;color:#0b0f19;left:1793.26px;transform-origin:0 0;transform:scaleX(0.9606);">06.02.2026</span>
<span class="t" style="top:270.20px;font-size:18px;font-weight:400;color:#6b7280;left:161.51px;transform-origin:0 0;transform:scaleX(0.9869);">PV production</span>
<span class="t" style="top:270.20px;font-size:18px;font-weight:400;color:#6b7280;right:1156.30px;transform-origin:100% 0;transform:scaleX(0.9875);">Consumption</span>
<span class="t" style="top:312.75px;font-size:27px;font-weight:700;color:#0b0f19;left:162.16px;transform-origin:0 0;transform:scaleX(0.8783);">643.61</span>
<span class="t" style="top:317.20px;font-size:22px;font-weight:400;color:#6b7280;left:243.89px;transform-origin:0 0;transform:scaleX(0.8794);">kWh</span>
<span class="t" style="top:312.75px;font-size:27px;font-weight:700;color:#0b0f19;right:1208.78px;transform-origin:100% 0;transform:scaleX(0.9288);">2.59</span>
<span class="t" style="top:317.20px;font-size:22px;font-weight:400;color:#6b7280;right:1156.22px;transform-origin:100% 0;transform:scaleX(0.8724);">MWh</span>
<span class="t" style="top:433.70px;font-size:18px;font-weight:400;color:#6b7280;left:161.54px;transform-origin:0 0;transform:scaleX(0.9674);">Fed to grid</span>
<span class="t" style="top:433.70px;font-size:18px;font-weight:400;color:#6b7280;right:1156.31px;transform-origin:100% 0;transform:scaleX(0.9751);">Consumed from grid</span>
<span class="t" style="top:476.25px;font-size:27px;font-weight:700;color:#0b0f19;left:161.47px;transform-origin:0 0;transform:scaleX(0.8496);">13.38</span>
<span class="t" style="top:480.70px;font-size:22px;font-weight:400;color:#6b7280;left:228.08px;transform-origin:0 0;transform:scaleX(0.8891);">kWh</span>
<span class="t" style="top:476.25px;font-size:27px;font-weight:700;color:#0b0f19;right:1208.84px;transform-origin:100% 0;transform:scaleX(0.8388);">1.96</span>
<span class="t" style="top:480.70px;font-size:22px;font-weight:400;color:#6b7280;right:1156.22px;transform-origin:100% 0;transform:scaleX(0.8724);">MWh</span>
<span class="t" style="top:597.50px;font-size:18px;font-weight:400;color:#6b7280;left:161.52px;transform-origin:0 0;transform:scaleX(0.9818);">Battery charge power</span>
<span class="t" style="top:597.50px;font-size:18px;font-weight:400;color:#6b7280;right:1157.21px;transform-origin:100% 0;transform:scaleX(0.9828);">Battery discharge power</span>
<span class="t" style="top:640.05px;font-size:27px;font-weight:700;color:#0b0f19;left:162.11px;transform-origin:0 0;transform:scaleX(0.9341);">22.35</span>
<span class="t" style="top:644.50px;font-size:22px;font-weight:400;color:#6b7280;left:233.87px;transform-origin:0 0;transform:scaleX(0.8939);">kWh</span>
<span class="t" style="top:640.05px;font-size:27px;font-weight:700;color:#0b0f19;right:1204.73px;transform-origin:100% 0;transform:scaleX(0.8511);">16.68</span>
<span class="t" style="top:644.50px;font-size:22px;font-weight:400;color:#6b7280;right:1156.20px;transform-origin:100% 0;transform:scaleX(0.8915);">kWh</span>
<span class="t" style="top:761.90px;font-size:18px;font-weight:400;color:#6b7280;left:161.39px;transform-origin:0 0;transform:scaleX(0.9325);">Revenue</span>
<span class="t" style="top:761.35px;font-size:27px;font-weight:700;color:#0b0f19;right:1175.26px;transform-origin:100% 0;transform:scaleX(0.9291);">0.64</span>
<span class="t" style="top:769.95px;font-size:17px;font-weight:700;color:#4b5563;left:767.90px;transform-origin:0 0;transform:scaleX(0.8820);">€</span>
<span class="t" style="top:253.90px;font-size:20px;font-weight:400;color:#555b66;right:1010.61px;transform-origin:100% 0;transform:scaleX(0.9739);">200</span>
<span class="t" style="top:363.50px;font-size:20px;font-weight:400;color:#555b66;right:1010.68px;transform-origin:100% 0;transform:scaleX(0.8444);">150</span>
<span class="t" style="top:483.20px;font-size:20px;font-weight:400;color:#555b66;right:1010.66px;transform-origin:100% 0;transform:scaleX(0.8918);">100</span>
<span class="t" style="top:602.70px;font-size:20px;font-weight:400;color:#555b66;right:1010.64px;transform-origin:100% 0;transform:scaleX(0.9232);">50</span>
<span class="t" style="top:722.30px;font-size:20px;font-weight:400;color:#555b66;right:1010.64px;transform-origin:100% 0;transform:scaleX(0.9200);">0</span>
<span class="t" style="top:253.90px;font-size:20px;font-weight:400;color:#555b66;left:1853.34px;transform-origin:0 0;transform:scaleX(0.8986);">36</span>
<span class="t" style="top:363.30px;font-size:20px;font-weight:400;color:#555b66;left:1853.08px;transform-origin:0 0;transform:scaleX(0.8733);">27</span>
<span class="t" style="top:482.80px;font-size:20px;font-weight:400;color:#555b66;left:1852.93px;transform-origin:0 0;transform:scaleX(0.7778);">18</span>
<span class="t" style="top:602.50px;font-size:20px;font-weight:400;color:#555b66;left:1853.03px;transform-origin:0 0;transform:scaleX(0.9280);">9</span>
<span class="t" style="top:722.30px;font-size:20px;font-weight:400;color:#555b66;left:1853.33px;transform-origin:0 0;transform:scaleX(0.9200);">0</span>
<span class="t" style="top:742.40px;font-size:20px;font-weight:400;color:#555b66;left:1008.68px;transform:translateX(-50%) scaleX(0.8475);">01:15</span>
<span class="t" style="top:742.40px;font-size:20px;font-weight:400;color:#555b66;left:1110.33px;transform:translateX(-50%) scaleX(1.0260);">03:00</span>
<span class="t" style="top:742.40px;font-size:20px;font-weight:400;color:#555b66;left:1217.73px;transform:translateX(-50%) scaleX(1.0260);">04:50</span>
<span class="t" style="top:742.40px;font-size:20px;font-weight:400;color:#555b66;left:1325.23px;transform:translateX(-50%) scaleX(1.0260);">06:40</span>
<span class="t" style="top:742.40px;font-size:20px;font-weight:400;color:#555b66;left:1432.74px;transform:translateX(-50%) scaleX(1.0056);">08:30</span>
<span class="t" style="top:742.40px;font-size:20px;font-weight:400;color:#555b66;left:1534.51px;transform:translateX(-50%) scaleX(0.8690);">10:15</span>
<span class="t" style="top:742.40px;font-size:20px;font-weight:400;color:#555b66;left:1637.44px;transform:translateX(-50%) scaleX(0.9565);">12:00</span>
<span class="t" style="top:742.40px;font-size:20px;font-weight:400;color:#555b66;left:1739.70px;transform:translateX(-50%) scaleX(0.9294);">13:45</span>
<span class="t" style="top:742.40px;font-size:20px;font-weight:400;color:#555b66;left:1841.65px;transform:translateX(-50%) scaleX(0.9358);">15:30</span>
<span class="t" style="top:506.80px;font-size:20px;font-weight:400;color:#777b84;left:870.80px;transform:translate(-50%,-50%) rotate(-90deg) scaleX(0.9600);">kW</span>
<span class="t" style="top:483.30px;font-size:20px;font-weight:400;color:#777b84;left:1887.70px;transform:translate(-50%,-50%) rotate(-90deg) scaleX(0.8875);">%</span>
<span class="t" style="top:815.00px;font-size:18px;font-weight:400;color:#6b7280;left:898.99px;transform-origin:0 0;transform:scaleX(1.0022);-webkit-text-stroke:0.45px currentColor;">PV production</span>
<span class="t" style="top:815.00px;font-size:18px;font-weight:400;color:#6b7280;left:1067.96px;transform-origin:0 0;transform:scaleX(1.0208);-webkit-text-stroke:0.45px currentColor;">Plant consumption</span>
<span class="t" style="top:815.00px;font-size:18px;font-weight:400;color:#6b7280;left:1275.06px;transform-origin:0 0;transform:scaleX(0.9993);-webkit-text-stroke:0.45px currentColor;">Consumed from grid</span>
<span class="t" style="top:815.00px;font-size:18px;font-weight:400;color:#6b7280;left:1493.30px;transform-origin:0 0;transform:scaleX(0.9985);-webkit-text-stroke:0.45px currentColor;">Fed to grid</span>
<span class="t" style="top:815.00px;font-size:18px;font-weight:400;color:#6b7280;left:1635.29px;transform-origin:0 0;transform:scaleX(1.0012);-webkit-text-stroke:0.45px currentColor;">Battery charge power</span>
<span class="t" style="top:856.30px;font-size:18px;font-weight:400;color:#6b7280;left:898.99px;transform-origin:0 0;transform:scaleX(1.0000);-webkit-text-stroke:0.45px currentColor;">Battery discharge power</span>
<span class="t" style="top:856.30px;font-size:18px;font-weight:400;color:#6b7280;left:1150.05px;transform-origin:0 0;transform:scaleX(0.9621);-webkit-text-stroke:0.45px currentColor;">Battery SoC %</span>
<span class="t" style="top:961.80px;font-size:20px;font-weight:700;color:#0b0f19;left:144.72px;transform-origin:0 0;transform:scaleX(0.9472);">Plant ranking</span>
<span class="t" style="top:990.90px;font-size:14px;font-weight:400;color:#6b7280;left:145.20px;transform-origin:0 0;transform:scaleX(1.0654);">9 minutes</span>
<span class="t" style="top:1048.70px;font-size:18px;font-weight:400;color:#6b7280;left:150.44px;transform-origin:0 0;transform:scaleX(0.8974);-webkit-text-stroke:0.45px currentColor;">Rank</span>
<span class="t" style="top:1048.70px;font-size:18px;font-weight:400;color:#6b7280;left:247.54px;transform-origin:0 0;transform:scaleX(0.9647);-webkit-text-stroke:0.45px currentColor;">Image</span>
<span class="t" style="top:1048.70px;font-size:18px;font-weight:400;color:#6b7280;left:359.46px;transform-origin:0 0;transform:scaleX(0.9503);-webkit-text-stroke:0.45px currentColor;">Name</span>
<span class="t" style="top:1022.70px;font-size:18px;font-weight:400;color:#6b7280;left:529.35px;transform-origin:0 0;transform:scaleX(0.9830);-webkit-text-stroke:0.45px currentColor;">Storage</span>
<span class="t" style="top:1048.70px;font-size:18px;font-weight:400;color:#6b7280;left:529.34px;transform-origin:0 0;transform:scaleX(1.0035);-webkit-text-stroke:0.45px currentColor;">capacity</span>
<span class="t" style="top:1074.20px;font-size:18px;font-weight:400;color:#6b7280;left:528.37px;transform-origin:0 0;transform:scaleX(0.9781);-webkit-text-stroke:0.45px currentColor;">(kWh)</span>
<span class="t" style="top:1022.70px;font-size:18px;font-weight:400;color:#6b7280;left:660.52px;transform-origin:0 0;transform:scaleX(0.9927);-webkit-text-stroke:0.45px currentColor;">Total charged</span>
<span class="t" style="top:1048.70px;font-size:18px;font-weight:400;color:#6b7280;left:660.26px;transform-origin:0 0;transform:scaleX(0.9582);-webkit-text-stroke:0.45px currentColor;">energy</span>
<span class="t" style="top:1074.20px;font-size:18px;font-weight:400;color:#6b7280;left:659.30px;transform-origin:0 0;transform:scaleX(0.9424);-webkit-text-stroke:0.45px currentColor;">(MWh)</span>
<span class="t" style="top:1022.70px;font-size:18px;font-weight:400;color:#6b7280;left:811.12px;transform-origin:0 0;transform:scaleX(0.9932);-webkit-text-stroke:0.45px currentColor;">Total discharged</span>
<span class="t" style="top:1048.70px;font-size:18px;font-weight:400;color:#6b7280;left:810.86px;transform-origin:0 0;transform:scaleX(0.9582);-webkit-text-stroke:0.45px currentColor;">energy</span>
<span class="t" style="top:1074.20px;font-size:18px;font-weight:400;color:#6b7280;left:809.90px;transform-origin:0 0;transform:scaleX(0.9424);-webkit-text-stroke:0.45px currentColor;">(MWh)</span>
<span class="t" style="top:1022.70px;font-size:18px;font-weight:400;color:#6b7280;right:826.00px;transform-origin:100% 0;transform:scaleX(0.9564);-webkit-text-stroke:0.45px currentColor;">Energy</span>
<span class="t" style="top:1048.70px;font-size:18px;font-weight:400;color:#6b7280;right:826.06px;transform-origin:100% 0;transform:scaleX(1.0124);-webkit-text-stroke:0.45px currentColor;">throughput</span>
<span class="t" style="top:1074.20px;font-size:18px;font-weight:400;color:#6b7280;right:824.02px;transform-origin:100% 0;transform:scaleX(0.9424);-webkit-text-stroke:0.45px currentColor;">(MWh)</span>
<span class="t" style="top:1123.70px;font-size:20px;font-weight:400;color:#1f5eea;left:359.59px;transform-origin:0 0;transform:scaleX(0.9698);">100 MW Utility</span>
<span class="t" style="top:1156.00px;font-size:20px;font-weight:400;color:#1f5eea;left:360.50px;transform-origin:0 0;transform:scaleX(0.9700);">scale</span>
<span class="t" style="top:1142.60px;font-size:20px;font-weight:400;color:#0b0f19;left:528.96px;transform-origin:0 0;transform:scaleX(1.0078);">24,000</span>
<span class="t" style="top:1142.60px;font-size:20px;font-weight:400;color:#0b0f19;left:660.22px;transform-origin:0 0;transform:scaleX(0.9230);">342.531</span>
<span class="t" style="top:1142.60px;font-size:20px;font-weight:400;color:#0b0f19;left:810.83px;transform-origin:0 0;transform:scaleX(0.9131);">334.261</span>
<span class="t" style="top:1142.60px;font-size:20px;font-weight:400;color:#0b0f19;right:825.23px;transform-origin:100% 0;transform:scaleX(0.9469);">676.792</span>
<span class="t" style="top:1239.40px;font-size:20px;font-weight:400;color:#1f5eea;left:359.23px;transform-origin:0 0;transform:scaleX(1.0052);">Focsani</span>
<span class="t" style="top:1240.60px;font-size:20px;font-weight:400;color:#0b0f19;left:528.98px;transform-origin:0 0;transform:scaleX(0.9772);">252</span>
<span class="t" style="top:1240.60px;font-size:20px;font-weight:400;color:#0b0f19;left:660.19px;transform-origin:0 0;transform:scaleX(0.9726);">80.552</span>
<span class="t" style="top:1240.60px;font-size:20px;font-weight:400;color:#0b0f19;left:810.54px;transform-origin:0 0;transform:scaleX(0.9171);">77.859</span>
<span class="t" style="top:1240.60px;font-size:20px;font-weight:400;color:#0b0f19;right:825.34px;transform-origin:100% 0;transform:scaleX(0.8131);">158.411</span>
<span class="t" style="top:1337.80px;font-size:20px;font-weight:400;color:#1f5eea;left:360.20px;transform-origin:0 0;transform:scaleX(0.9556);">Satu Mare</span>
<span class="t" style="top:1339.00px;font-size:20px;font-weight:400;color:#0b0f19;left:529.32px;transform-origin:0 0;transform:scaleX(0.9226);">85</span>
<span class="t" style="top:1339.00px;font-size:20px;font-weight:400;color:#0b0f19;left:659.89px;transform-origin:0 0;transform:scaleX(0.9659);">28.885</span>
<span class="t" style="top:1339.00px;font-size:20px;font-weight:400;color:#0b0f19;left:810.53px;transform-origin:0 0;transform:scaleX(0.9289);">27.862</span>
<span class="t" style="top:1339.00px;font-size:20px;font-weight:400;color:#0b0f19;right:825.25px;transform-origin:100% 0;transform:scaleX(0.9241);">56.747</span>
<span class="t" style="top:1436.40px;font-size:20px;font-weight:400;color:#1f5eea;left:359.23px;transform-origin:0 0;transform:scaleX(1.0069);">Drobeta</span>
<span class="t" style="top:1437.60px;font-size:20px;font-weight:400;color:#0b0f19;left:529.30px;transform-origin:0 0;transform:scaleX(0.9676);">302</span>
<span class="t" style="top:1437.60px;font-size:20px;font-weight:400;color:#0b0f19;left:659.90px;transform-origin:0 0;transform:scaleX(0.9626);">26.477</span>
<span class="t" style="top:1437.60px;font-size:20px;font-weight:400;color:#0b0f19;left:810.51px;transform-origin:0 0;transform:scaleX(0.9457);">24.535</span>
<span class="t" style="top:1437.60px;font-size:20px;font-weight:400;color:#0b0f19;right:825.26px;transform-origin:100% 0;transform:scaleX(0.9073);">51.012</span>
<span class="t" style="top:1437.60px;font-size:20px;font-weight:400;color:#0b0f19;left:178.08px;transform:translateX(-50%) scaleX(0.8436);">4</span>
<span class="t" style="top:961.50px;font-size:20px;font-weight:700;color:#0b0f19;left:1182.22px;transform-origin:0 0;transform:scaleX(0.9477);">Events</span>
<span class="t" style="top:991.10px;font-size:14px;font-weight:400;color:#6b7280;left:1182.61px;transform-origin:0 0;transform:scaleX(1.0587);">9 minutes</span>
<span class="t" style="top:1030.40px;font-size:18px;font-weight:400;color:#6b7280;left:1192.99px;transform-origin:0 0;transform:scaleX(0.9335);-webkit-text-stroke:0.45px currentColor;">Date</span>
<span class="t" style="top:1030.40px;font-size:18px;font-weight:400;color:#6b7280;left:1348.44px;transform-origin:0 0;transform:scaleX(0.9339);-webkit-text-stroke:0.45px currentColor;">Type</span>
<span class="t" style="top:1030.40px;font-size:18px;font-weight:400;color:#6b7280;left:1432.48px;transform-origin:0 0;transform:scaleX(0.9407);-webkit-text-stroke:0.45px currentColor;">Message</span>
<span class="t" style="top:1084.90px;font-size:18px;font-weight:400;color:#0b0f19;left:1193.51px;transform-origin:0 0;transform:scaleX(0.9404);">22/01/2026 16:37</span>
<span class="t" style="top:1084.90px;font-size:18px;font-weight:400;color:#0f172a;left:1372.57px;transform:translateX(-50%) scaleX(0.9825);">Info</span>
<span class="t" style="top:1084.90px;font-size:18px;font-weight:400;color:#0b0f19;left:1433.25px;transform-origin:0 0;transform:scaleX(0.9696);">Satu Mare plant connected to server</span>
<span class="t" style="top:1143.50px;font-size:18px;font-weight:400;color:#0b0f19;left:1193.51px;transform-origin:0 0;transform:scaleX(0.9404);">22/01/2026 16:36</span>
<span class="t" style="top:1143.50px;font-size:18px;font-weight:400;color:#0f172a;left:1379.08px;transform:translateX(-50%) scaleX(0.9468);">Major</span>
<span class="t" style="top:1143.50px;font-size:18px;font-weight:400;color:#0b0f19;left:1433.25px;transform-origin:0 0;transform:scaleX(0.9780);">Satu Mare plant unexpectedly disconnected from server</span>
<span class="t" style="top:1202.00px;font-size:18px;font-weight:400;color:#0b0f19;left:1193.51px;transform-origin:0 0;transform:scaleX(0.9404);">22/01/2026 16:36</span>
<span class="t" style="top:1202.00px;font-size:18px;font-weight:400;color:#0f172a;left:1372.57px;transform:translateX(-50%) scaleX(0.9825);">Info</span>
<span class="t" style="top:1202.00px;font-size:18px;font-weight:400;color:#0b0f19;left:1433.22px;transform-origin:0 0;transform:scaleX(0.9786);">Focsani plant connected to server</span>
<span class="t" style="top:1260.60px;font-size:18px;font-weight:400;color:#0b0f19;left:1193.51px;transform-origin:0 0;transform:scaleX(0.9404);">22/01/2026 16:36</span>
<span class="t" style="top:1260.60px;font-size:18px;font-weight:400;color:#0f172a;left:1372.57px;transform:translateX(-50%) scaleX(0.9825);">Info</span>
<span class="t" style="top:1260.60px;font-size:18px;font-weight:400;color:#0b0f19;left:1433.21px;transform-origin:0 0;transform:scaleX(0.9902);">Bucuresti plant connected to server</span>
<span class="t" style="top:1319.10px;font-size:18px;font-weight:400;color:#0b0f19;left:1193.51px;transform-origin:0 0;transform:scaleX(0.9404);">22/01/2026 16:36</span>
<span class="t" style="top:1319.10px;font-size:18px;font-weight:400;color:#0f172a;left:1372.57px;transform:translateX(-50%) scaleX(0.9825);">Info</span>
<span class="t" style="top:1319.10px;font-size:18px;font-weight:400;color:#0b0f19;left:1432.99px;transform-origin:0 0;transform:scaleX(0.9545);">Cube DEO plant connected to server</span>
<span class="t" style="top:1377.60px;font-size:18px;font-weight:400;color:#0b0f19;left:1193.51px;transform-origin:0 0;transform:scaleX(0.9404);">22/01/2026 16:36</span>
<span class="t" style="top:1377.60px;font-size:18px;font-weight:400;color:#0f172a;left:1372.57px;transform:translateX(-50%) scaleX(0.9825);">Info</span>
<span class="t" style="top:1377.60px;font-size:18px;font-weight:400;color:#0b0f19;left:1433.22px;transform-origin:0 0;transform:scaleX(0.9808);">Drobeta plant connected to server</span>
<span class="t" style="top:1436.10px;font-size:18px;font-weight:400;color:#0b0f19;left:1193.51px;transform-origin:0 0;transform:scaleX(0.9404);">22/01/2026 16:36</span>
<span class="t" style="top:1436.10px;font-size:18px;font-weight:400;color:#0f172a;left:1372.57px;transform:translateX(-50%) scaleX(0.9825);">Info</span>
<span class="t" style="top:1436.10px;font-size:18px;font-weight:400;color:#0b0f19;left:1433.23px;transform-origin:0 0;transform:scaleX(0.9759);">Residential 48V plant connected to server</span>
</body></html>
